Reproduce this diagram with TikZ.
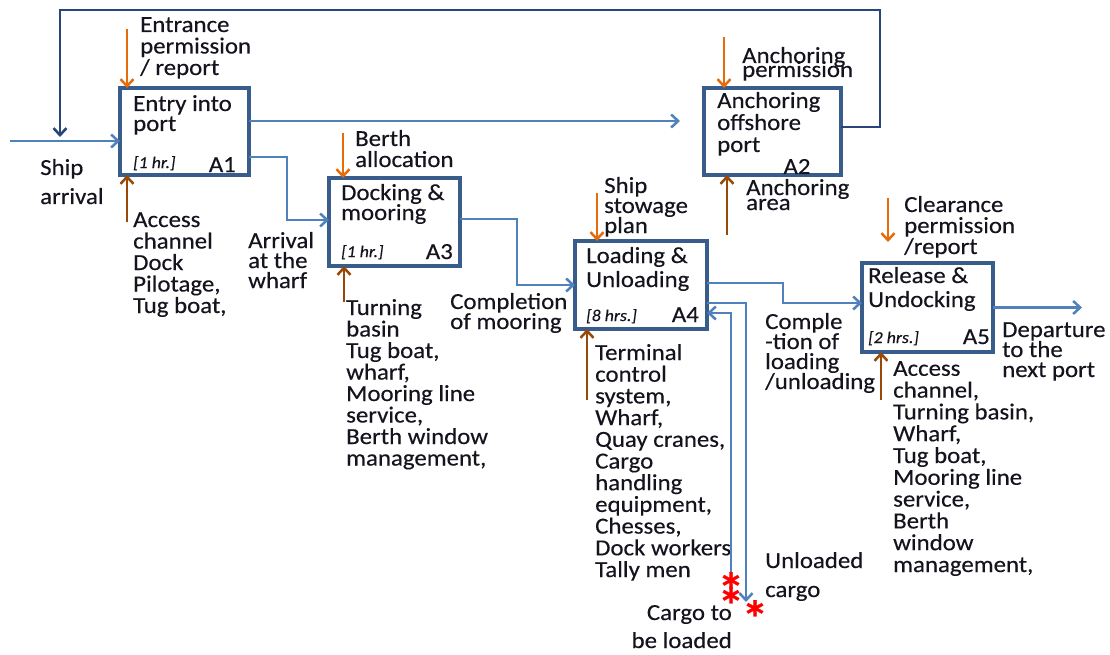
\documentclass[tikz,border=0pt]{standalone}
\usepackage{fontspec}
\setmainfont{Carlito}[FakeStretch=1.08,FakeBold=0.3]
\usetikzlibrary{arrows.meta,calc}
\definecolor{boxblue}{RGB}{56,93,138}
\definecolor{flowblue}{RGB}{79,129,189}
\definecolor{fbblue}{RGB}{40,70,120}
\definecolor{ctrlorange}{RGB}{228,108,10}
\definecolor{mechbrown}{RGB}{152,72,7}
\definecolor{txt}{RGB}{20,20,30}
\newcommand\tightls{\lineskiplimit=-50pt\relax\lineskip=0pt\relax}
\begin{document}
\begin{tikzpicture}[x=1pt,y=-1pt,
  box/.style={draw=boxblue, line width=3.5pt, fill=white, anchor=north west, inner sep=0pt, outer sep=0pt},
  lbl/.style={inner sep=0pt, align=left, text=txt, anchor=base west},
  fs/.style={font={\fontsize{23}{#1}\selectfont\tightls}},
  tm/.style={lbl, font=\fontsize{16.5}{18}\selectfont\itshape},
  idl/.style={inner sep=0pt, text=txt, anchor=base east, font=\fontsize{23}{24}\selectfont},
  tipb/.style={-{Straight Barb[length=7pt,width=13pt]}},
  flow/.style={draw=flowblue, line width=2.5pt, tipb},
  fb/.style={draw=fbblue, line width=2.6pt, tipb},
  ctrl/.style={draw=ctrlorange, line width=2.5pt, tipb},
  mech/.style={draw=mechbrown, line width=2.5pt, tipb},
  redstar/.style={inner sep=0pt, text=red, anchor=base, font=\fontsize{50}{50}\selectfont\bfseries}
]
\useasboundingbox[fill=white] (0,0) rectangle (1110,655);

% boxes
\node[box, minimum width=129pt, minimum height=87pt] (A1) at (120,88) {};
\node[box, minimum width=137pt, minimum height=87pt] (A2) at (704,88) {};
\node[box, minimum width=131pt, minimum height=88pt] (A3) at (329,178) {};
\node[box, minimum width=132pt, minimum height=88pt] (A4) at (575,241) {};
\node[box, minimum width=131pt, minimum height=89pt] (A5) at (862,263) {};

% box texts (anchor = baseline of last line)
\node[lbl, fs=20] (t1) at (133,131) {Entry into\\port};
\node[tm] (h1) at (133,168) {[1 hr.]};
\node[idl] (i1) at (236,172) {A1};
\node[lbl, fs=22] (t2) at (717,152) {Anchoring\\offshore\\port};
\node[idl, anchor=base] (i2) at (797,174) {A2};
\node[lbl, fs=20] (t3) at (341,220) {Docking \&\\mooring};
\node[tm] (h3) at (341,257) {[1 hr.]};
\node[idl] (i3) at (453,259) {A3};
\node[lbl, fs=24] (t4) at (586,287) {Loading \&\\Unloading};
\node[tm] (h4) at (586,321) {[8 hrs.]};
\node[idl] (i4) at (699,322) {A4};
\node[lbl, fs=24] (t5) at (868,307) {Release \&\\Undocking};
\node[tm] (h5) at (868,343) {[2 hrs.]};
\node[idl] (i5) at (990,344) {A5};

% outside labels
\node[lbl, fs=21.5] (entr) at (140,75) {Entrance\\permission\\/ report};
\node[lbl, fs=29] (ship) at (40,204) {Ship\\arrival};
\node[lbl, fs=21.5] (m1t) at (133,313) {Access\\channel\\Dock\\Pilotage,\\Tug boat,};
\node[lbl, fs=20] (arrw) at (248,288) {Arrival\\at the\\wharf};
\node[lbl, fs=21] (berth) at (355,167) {Berth\\allocation};
\node[lbl, fs=21.5] (m3t) at (346,465.5) {Turning\\basin\\Tug boat,\\wharf,\\Mooring line\\service,\\Berth window\\management,};
\node[lbl, fs=20] (compm) at (450,329) {Completion\\of mooring};
\node[lbl, fs=20] (stow) at (604,233) {Ship\\stowage\\plan};
\node[lbl, fs=21.7] (m4t) at (595,577) {Terminal\\control\\system,\\Wharf,\\Quay cranes,\\Cargo\\handling\\equipment,\\Chesses,\\Dock workers\\Tally men};
\node[lbl, fs=20] (compl) at (765,389) {Comple\\-tion of\\loading\\/unloading};
\node[lbl, fs=14] (anchp) at (742,77) {Anchoring\\permission};
\node[lbl, fs=15] (ancha) at (746,210) {Anchoring\\area};
\node[lbl, fs=21] (clear) at (904,254) {Clearance\\permission\\/report};
\node[lbl, fs=20] (dept) at (1002,377) {Departure\\to the\\next port};
\node[lbl, fs=21.8] (m5t) at (893,572) {Access\\channel,\\Turning basin,\\Wharf,\\Tug boat,\\Mooring line\\service,\\Berth\\window\\management,};
\node[lbl, fs=29] (unlt) at (765,597) {Unloaded\\cargo};
\node[lbl, fs=28, align=right, anchor=base east] (ctbl) at (732,648) {Cargo to\\be loaded};

% free-end coordinates
\coordinate (shipin) at (10,141);
\coordinate (fbtop) at (880,10);
\coordinate (fbend) at (60,137);
\coordinate (a2in) at (680,121);
\coordinate (dep) at (1082,307.5);
\coordinate (unl) at (746,602);
\coordinate (ldst) at (731,577);
\coordinate (c1) at (127,29);
\coordinate (c2) at (724,37);
\coordinate (c3) at (343,133);
\coordinate (c4) at (597,193);
\coordinate (c5) at (888,198);
\coordinate (m1) at (127,222);
\coordinate (m2) at (727,235);
\coordinate (m3) at (344,302);
\coordinate (m4) at (587,400);
\coordinate (m5) at (881,400);

% flows
\draw[flow] (shipin) -- (shipin -| A1.west);
\draw[fb] ([yshift=4.5pt]A2.east) -| (fbtop) -| (fbend);
\draw[flow] ([yshift=10.5pt]A1.east) -- (a2in);
\draw[flow] ([yshift=-25.5pt]A1.east) -- ++(38,0) |- ([yshift=2pt]A3.west);
\draw[flow] ([yshift=3pt]A3.east) -- ++(57,0) |- (A4.west);
\draw[flow] ([yshift=2pt]A4.east) -- ++(76,0) |- ([yshift=4.5pt]A5.west);
\draw[flow] (A5.east) -- (dep);
\draw[flow] ([yshift=-18pt]A4.east) -| (unl);
\draw[flow] (ldst) |- ([yshift=-28pt]A4.east);

% controls
\draw[ctrl] (c1) -- (c1 |- A1.north);
\draw[ctrl] (c2) -- (c2 |- A2.north);
\draw[ctrl] (c3) -- (c3 |- A3.north);
\draw[ctrl] (c4) -- (c4 |- A4.north);
\draw[ctrl] (c5) -- ($(c5 |- A5.north)+(0,-21)$);

% mechanisms
\draw[mech] (m1) -- (m1 |- A1.south);
\draw[mech] (m2) -- (m2 |- A2.south);
\draw[mech] (m3) -- (m3 |- A3.south);
\draw[mech] (m4) -- (m4 |- A4.south);
\draw[mech] (m5) -- (m5 |- A5.south);

% red stars
\node[redstar] (s1) at (731,608) {*};
\node[redstar] (s2) at (731,623) {*};
\node[redstar] (s3) at (755,636) {*};
\end{tikzpicture}
\end{document}
